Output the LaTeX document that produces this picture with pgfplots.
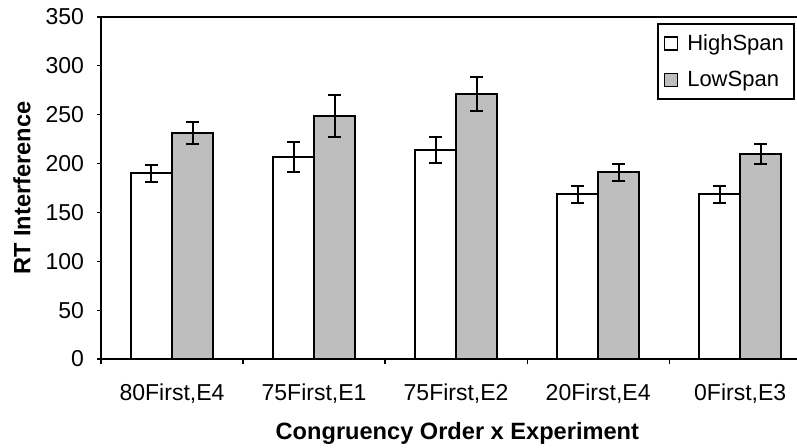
\documentclass[border=0pt]{standalone}
\usepackage{fontspec}
\setmainfont{Liberation Sans}
\usepackage{pgfplots}
\pgfplotsset{compat=1.18}
\usepackage{pgfplotstable}
\definecolor{barGray}{RGB}{190,190,190}

\pgfplotstableread{
x high higherr low lowerr
0 190   9    231.5 11.5
1 207   15.5 248.5 21.5
2 214   13   271   17.5
3 168.5 8.5  191   9
4 168.5 8.5  210   10
}\datatab

\pgfplotsset{
  sqlegend/.style={legend image code/.code={
    \draw[##1,line width=0.7pt] (0pt,-3.25pt) rectangle (6.5pt,3.25pt);}},
}

\begin{document}
\begin{tikzpicture}
\begin{axis}[
  scale only axis,
  width=348pt, height=171pt,
  xmin=-0.5, xmax=4.4,
  ymin=0, ymax=350,
  axis x line*=box, axis y line*=left,
  axis line style={line width=1pt},
  tick align=outside, tick pos=left,
  major tick length=2pt, minor tick length=2.5pt,
  xtick={0,1,2,3,4},
  xticklabels={80First{,}E4,75First{,}E1,75First{,}E2,20First{,}E4,0First{,}E3},
  major x tick style={draw=none},
  minor xtick={-0.5,0.5,1.5,2.5,3.5},
  ytick={0,50,...,350},
  tick style={black, line width=0.6pt},
  tick label style={font=\fontsize{11.5}{13}\selectfont},
  xticklabel style={yshift=-7pt},
  yticklabel style={xshift=-3pt},
  /pgf/number format/assume math mode=true,
  xlabel={\bfseries Congruency Order x Experiment},
  ylabel={\bfseries RT Interference},
  label style={font=\fontsize{11.8}{14}\selectfont},
  xlabel style={at={(axis description cs:0.512,-0.2164)}, anchor=center},
  ylabel style={at={(axis description cs:-0.1135,0.5)}, anchor=center},
  legend style={at={(axis description cs:0.997,0.982)}, anchor=north east,
    draw=black, line width=1pt, font=\fontsize{11}{13}\selectfont,
    row sep=5pt, inner xsep=3pt, inner ysep=3pt,
    /tikz/every odd column/.append style={column sep=2.5pt}},
  legend cell align=left,
  clip=false,
]
\addplot[ybar, bar width=0.289, bar shift=0pt, fill=white, draw=black,
  line width=0.9pt, sqlegend,
  error bars/.cd, y dir=both, y explicit,
  error bar style={line width=1pt, black},
  error mark options={line width=1pt, mark size=3.25pt, rotate=90}]
  table[x expr=\thisrow{x}-0.1445, y=high, y error=higherr]{\datatab};
\addlegendentry{HighSpan}
\addplot[ybar, bar width=0.289, bar shift=0pt, fill=barGray, draw=black,
  line width=0.9pt, sqlegend,
  error bars/.cd, y dir=both, y explicit,
  error bar style={line width=1pt, black},
  error mark options={line width=1pt, mark size=3.25pt, rotate=90}]
  table[x expr=\thisrow{x}+0.1445, y=low, y error=lowerr]{\datatab};
\addlegendentry{LowSpan}
\end{axis}
\pgfresetboundingbox
\useasboundingbox (-50.5pt,-44pt) rectangle (348pt,179.5pt);
\end{tikzpicture}
\end{document}
